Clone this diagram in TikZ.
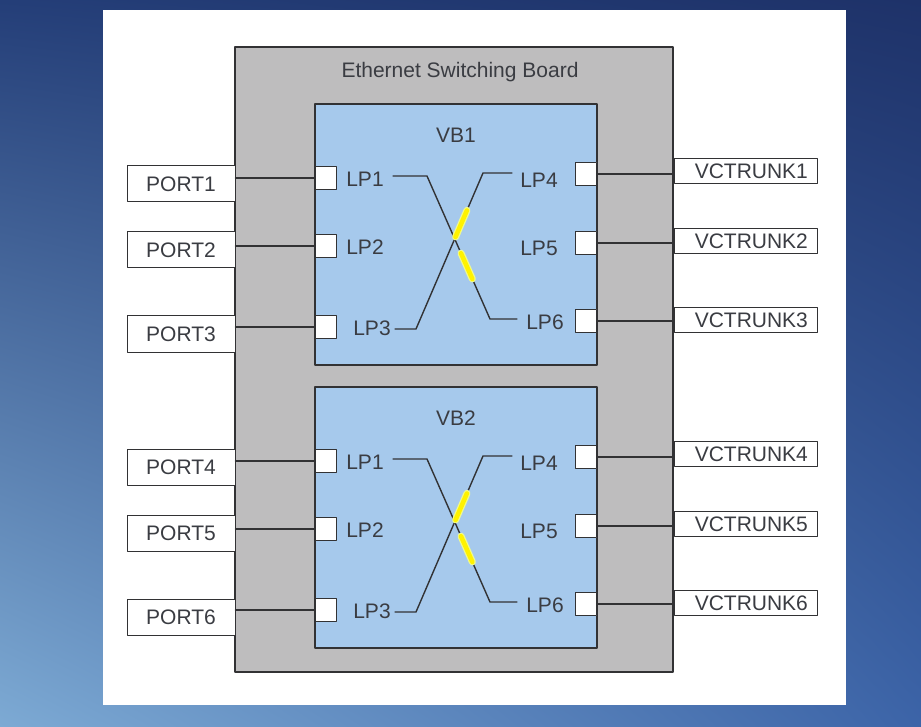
\documentclass[tikz,border=0pt]{standalone}
\usepackage{fontspec}
\setmainfont{Liberation Sans}
\usetikzlibrary{calc, shadings}

\definecolor{boardgray}{RGB}{190,189,190}
\definecolor{vbblue}{RGB}{166,201,236}
\definecolor{wiregray}{RGB}{50,50,52}
\definecolor{txtgray}{RGB}{58,60,66}
\definecolor{glowyellow}{RGB}{240,250,140}
\definecolor{bgul}{RGB}{36,62,120}
\definecolor{bgur}{RGB}{30,50,105}
\definecolor{bgll}{RGB}{125,170,212}
\definecolor{bglr}{RGB}{60,100,168}

\begin{document}
\begin{tikzpicture}[x=1pt, y=-1pt, line join=round, line cap=round,
	every node/.style={font=\fontsize{21}{25}\selectfont, text=txtgray, inner sep=0pt},
	boardbox/.style={draw=wiregray, line width=1.6pt, fill=boardgray, minimum width=438pt, minimum height=625pt},
	vbbox/.style={draw=wiregray, line width=1.4pt, fill=vbblue, minimum width=282pt, minimum height=261pt},
	lpsq/.style={draw=wiregray, line width=1pt, fill=white, minimum width=21pt, minimum height=23pt},
	portbox/.style={draw=wiregray, line width=1pt, fill=white, minimum width=108pt, minimum height=36pt},
	trunkbox/.style={draw=wiregray, line width=1pt, fill=white, minimum width=143pt, minimum height=25pt},
	wire/.style={wiregray, line width=1.4pt},
	hilite/.style={yellow, line width=4.5pt}]
	
	% Picture frame
	\useasboundingbox (0,0) rectangle (921,727);
	
	% Blue screen behind the slide
	\shade[upper left=bgul, upper right=bgur, lower left=bgll, lower right=bglr]
	(0,0) rectangle (921,727);
	\fill[white] (103,10) rectangle (846,705);
	
	% Board with its title
	\node[boardbox] (brd) at (454,359.5) {};
	\node (ttl) at (460,72) {Ethernet Switching Board};
	
	\foreach \b/\o in {1/0, 2/283} {
		
		% Virtual bridge
		\node[vbbox] (vb\b) at (456,234.5+\o) {};
		\node (vbt\b) at (456,135+\o) {VB\b};
		
		% Ports on the left
		\foreach \i/\ly/\py/\tx in {1/178/184/365, 2/246/250/365, 3/327/334/372} {
			\pgfmathtruncatemacro{\n}{3*(\b-1)+\i}
			\node[portbox] (prt\n) at (181,\py+\o) {PORT\n};
			\node[lpsq, anchor=west] (lp\b-\i) at (315,\ly+\o) {};
			\node (lpl\b-\i) at (\tx,\ly+1+\o) {LP\i};
			\draw[wire] (lp\b-\i.west) -- (lp\b-\i.west -| prt\n.east);
		}
		
		% VC trunks on the right
		\foreach \i/\ly/\vy/\ty/\tx in {4/174/171/180/539, 5/243/241/248/539, 6/321/320/322/545} {
			\pgfmathtruncatemacro{\n}{3*(\b-1)+\i-3}
			\node[trunkbox] (vct\n) at (745.5,\vy+\o) {~~VCTRUNK\n};
			\node[lpsq, anchor=east] (lp\b-\i) at (597,\ly+\o) {};
			\node (lpl\b-\i) at (\tx,\ty+\o) {LP\i};
			\draw[wire] (lp\b-\i.east) -- (lp\b-\i.east -| vct\n.west);
		}
		
		% Crossed links LP1-LP6 and LP3-LP4
		\coordinate (xa\b) at (393,176+\o);
		\coordinate (xb\b) at (427,176+\o);
		\coordinate (xc\b) at (490,319+\o);
		\coordinate (xd\b) at (517,319+\o);
		\coordinate (ya\b) at (395,329+\o);
		\coordinate (yb\b) at (416,329+\o);
		\coordinate (yc\b) at (483,173+\o);
		\coordinate (yd\b) at (512,173+\o);
		\draw[wire] (xa\b) -- (xb\b) -- (xc\b) -- (xd\b);
		\draw[wire] (ya\b) -- (yb\b) -- (yc\b) -- (yd\b);
		
		% Highlighted parts
		\draw[glowyellow, line width=7pt] ($(yb\b)!0.59!(yc\b)$) -- ($(yb\b)!0.76!(yc\b)$);
		\draw[hilite] ($(yb\b)!0.59!(yc\b)$) -- ($(yb\b)!0.76!(yc\b)$);
		\draw[glowyellow, line width=7pt] ($(xb\b)!0.54!(xc\b)$) -- ($(xb\b)!0.72!(xc\b)$);
		\draw[hilite] ($(xb\b)!0.54!(xc\b)$) -- ($(xb\b)!0.72!(xc\b)$);
	}
	
\end{tikzpicture}
\end{document}
